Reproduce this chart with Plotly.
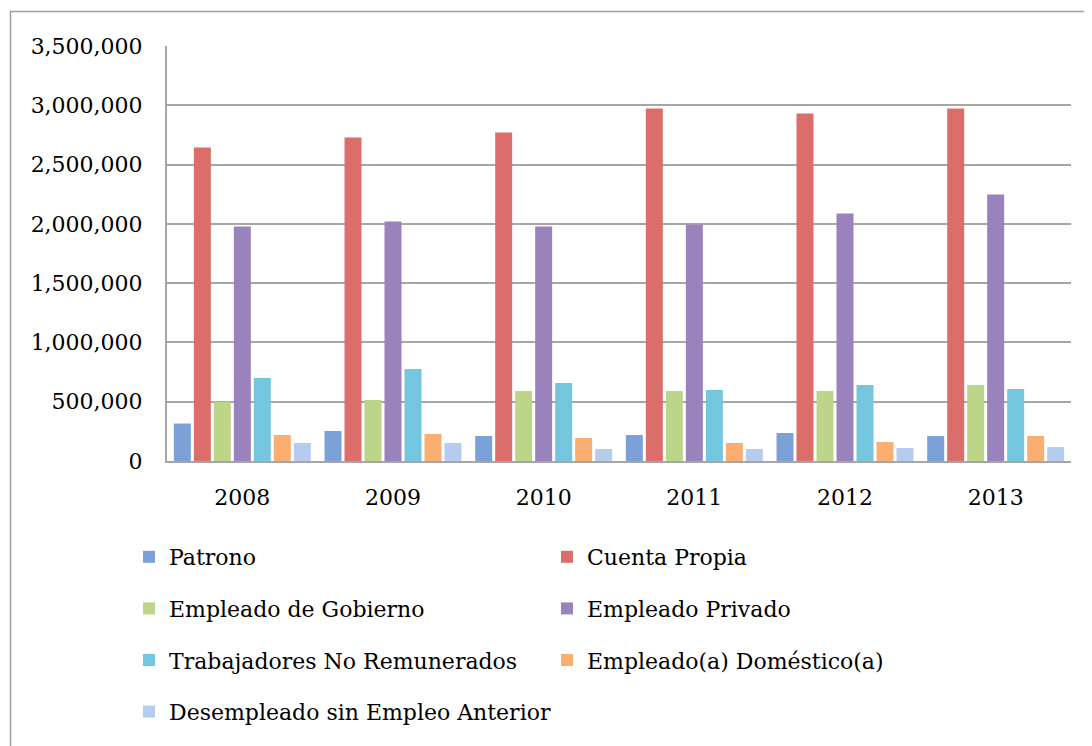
import plotly.graph_objects as go

years = ["2008", "2009", "2010", "2011", "2012", "2013"]

patrono = [316000, 253000, 211000, 219000, 236000, 211000]
cuenta_propia = [2643000, 2728000, 2770000, 2972000, 2930000, 2972000]
empleado_gobierno = [500000, 514000, 590000, 590000, 590000, 641000]
empleado_privado = [1977000, 2020000, 1977000, 1994000, 2087000, 2247000]
trabajadores_no_rem = [700000, 776000, 658000, 599000, 641000, 607000]
empleado_domestico = [219000, 228000, 194000, 152000, 160000, 211000]
desempleado_sin_ant = [152000, 152000, 101000, 101000, 110000, 118000]

series = [
    ("Patrono", patrono, "#7CA1D9", "legend"),
    ("Cuenta Propia", cuenta_propia, "#DB6E6A", "legend2"),
    ("Empleado de Gobierno", empleado_gobierno, "#BCD588", "legend"),
    ("Empleado Privado", empleado_privado, "#9A82BC", "legend2"),
    ("Trabajadores No Remunerados", trabajadores_no_rem, "#74C6DE", "legend"),
    ("Empleado(a) Doméstico(a)", empleado_domestico, "#FBAE72", "legend2"),
    ("Desempleado sin Empleo Anterior", desempleado_sin_ant, "#B5CCEF", "legend"),
]

FONT = "DejaVu Serif"

fig = go.Figure()
for i, (name, vals, color, leg) in enumerate(series):
    fig.add_trace(go.Bar(
        x=years, y=vals, name=name,
        marker=dict(color=color, line=dict(width=0)),
        legend=leg, legendgroup=f"g{i}",
    ))

# page body has an 8px offset; positions below are in figure pixels
OFF = 8
W, H = 1092, 746
L, T = 167 - OFF, 46 - OFF
R = W - (1071 - OFF)
B = H - (461 - OFF)
pw, ph = W - L - R, H - T - B
y0px = 461 - OFF

leg_common = dict(
    orientation="v", traceorder="grouped", tracegroupgap=20,
    font=dict(family=FONT, size=22, color="#000000"),
    bgcolor="rgba(0,0,0,0)", itemwidth=30,
    xanchor="left", yanchor="top",
)

fig.update_layout(
    width=W, height=H,
    margin=dict(l=L, r=R, t=T, b=B, pad=0),
    paper_bgcolor="white", plot_bgcolor="white",
    barmode="group", bargap=0.071, bargroupgap=0.15,
    font=dict(family=FONT, size=22, color="#000000"),
    showlegend=True,
    legend=dict(leg_common, x=(129 - OFF - L) / pw, y=(y0px - (536 - OFF)) / ph),
    legend2=dict(leg_common, x=(547 - OFF - L) / pw, y=(y0px - (536 - OFF)) / ph),
    xaxis=dict(
        showgrid=False, showline=True, linecolor="#A6A6A6", linewidth=2,
        ticks="", tickfont=dict(family=FONT, size=22, color="#000000"),
        ticklabelstandoff=16,
    ),
    yaxis=dict(
        range=[0, 3500000], dtick=500000, tickformat=",d",
        showgrid=True, gridcolor="#A6A6A6", gridwidth=1.5,
        showline=True, linecolor="#A6A6A6", linewidth=2,
        zeroline=False, ticks="",
        tickfont=dict(family=FONT, size=22, color="#000000"),
        ticklabelstandoff=18,
    ),
    shapes=[dict(
        type="rect", xref="paper", yref="paper",
        x0=(10.5 - OFF - L) / pw, x1=1.5, y0=-1.0, y1=1 + (46 - 11.5) / ph,
        line=dict(color="#A0A0A0", width=1.5), fillcolor="rgba(0,0,0,0)",
        layer="below",
    )],
)

fig.write_html("out.html")
